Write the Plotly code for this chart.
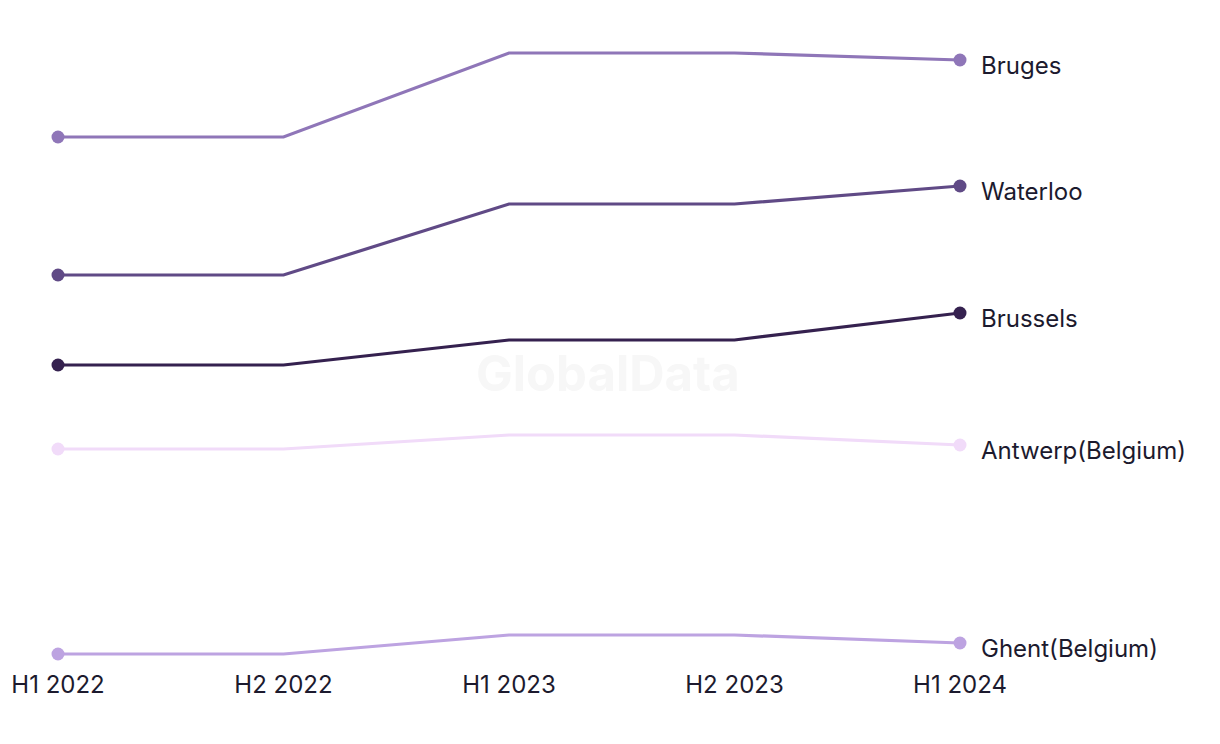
import plotly.graph_objects as go

periods = ["H1 2022", "H2 2022", "H1 2023", "H2 2023", "H1 2024"]
cities = ["Bruges", "Waterloo", "Brussels", "Antwerp(Belgium)", "Ghent(Belgium)"]
bruges = [56.3, 56.3, 64.7, 64.7, 64.0]
waterloo = [42.5, 42.5, 49.6, 49.6, 51.4]
brussels = [33.5, 33.5, 36.0, 36.0, 38.7]
antwerp = [25.1, 25.1, 26.5, 26.5, 25.5]
ghent = [4.6, 4.6, 6.5, 6.5, 5.7]
series = [bruges, waterloo, brussels, antwerp, ghent]
colors = ["#8f76b8", "#604a86", "#35214f", "#f1dbf9", "#bda3e1"]

n = len(periods)
fig = go.Figure()
fig.add_annotation(x=2.44, y=32.7, text="<b>GlobalData</b>",
                   showarrow=False, font=dict(size=49, color="#f7f7f7", family="Inter"))
for name, vals, col in zip(cities, series, colors):
    fig.add_trace(go.Scatter(
        x=list(range(n)), y=vals, mode="lines+markers", name=name,
        line=dict(color=col, width=3.2),
        marker=dict(color=col, size=[13] + [0] * (n - 2) + [13], opacity=1,
                    line=dict(width=0)),
        cliponaxis=False, showlegend=False, hoverinfo="skip"))
    fig.add_annotation(x=n - 1, y=vals[-1], text=name, showarrow=False,
                       xanchor="left", yanchor="middle", xshift=19, yshift=-5,
                       font=dict(size=24, color="#1c1a2e", family="Inter"))

fig.update_layout(
    width=1220, height=744, plot_bgcolor="white", paper_bgcolor="white",
    margin=dict(l=50, r=268, t=0, b=87),
    xaxis=dict(range=[0, 4], tickvals=list(range(n)), ticktext=periods,
               showgrid=False, zeroline=False, showline=False, ticks="",
               ticklabelstandoff=3,
               tickfont=dict(size=24, color="#1c1a2e", family="Inter")),
    yaxis=dict(range=[3.5, 69.2], showgrid=False, zeroline=False, showline=False,
               showticklabels=False),
)
fig.write_html("out.html")
